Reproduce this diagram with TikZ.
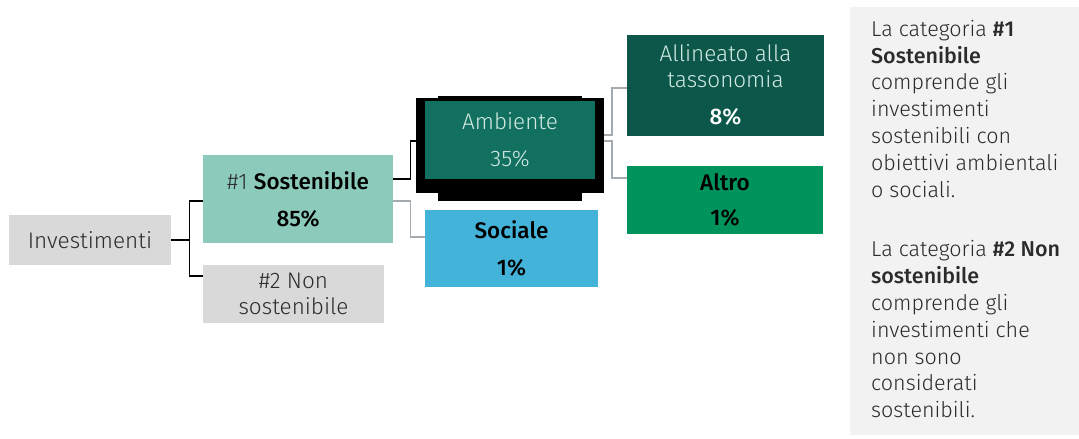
\documentclass[tikz,border=0pt]{standalone}
\usepackage{fontspec}
\setmainfont{Fira Sans}[UprightFont=* Light, BoldFont=* Medium]
\definecolor{boxgray}{HTML}{D9D9D9}
\definecolor{mint}{HTML}{8CCBBB}
\definecolor{teal}{HTML}{117060}
\definecolor{darkteal}{HTML}{0C574A}
\definecolor{green}{HTML}{00935B}
\definecolor{sky}{HTML}{44B3D9}
\definecolor{panel}{HTML}{F2F2F2}
\definecolor{linegray}{HTML}{A3AAB0}
\definecolor{txt}{HTML}{2B2B2B}
\definecolor{lighttxt}{HTML}{D2EAE2}
\begin{document}
\begin{tikzpicture}[x=1pt,y=-1pt,
  box/.style={draw=none,inner sep=0pt,align=center,font=\fontsize{22.5}{26}\selectfont,text=txt},
  conn/.style={line width=1.3pt,black},
  gconn/.style={line width=1.3pt,linegray}]
\useasboundingbox (0,0) rectangle (1079,439);
% panel
\fill[panel] (850,7) rectangle (1079,435);
\node[anchor=north west,inner sep=0pt,align=left,text=txt,font=\fontsize{21.5}{26.8}\selectfont] (panel) at (871,20)
 {La categoria \textbf{\#1}\\ \textbf{Sostenibile}\\ comprende gli\\ investimenti\\ sostenibili con\\ obiettivi ambientali\\ o sociali.\\[33pt]
 La categoria \textbf{\#2 Non}\\ \textbf{sostenibile}\\ comprende gli\\ investimenti che\\ non sono\\ considerati\\ sostenibili.};
% boxes
\node[box,fill=boxgray,minimum width=162,minimum height=50] (inv) at (90,240) {Investimenti};
\node[box,fill=mint,minimum width=190,minimum height=88] (sost) at (298,199) {\#1 \textbf{\color{black}Sostenibile}\\[11pt] \textbf{\color{black}85\%}};
\node[box,fill=boxgray,minimum width=181,minimum height=58] (non) at (293.5,294) {\#2 Non\\ sostenibile};
% Ambiente frame
\fill[black] (416,98) rectangle (604,193);
\fill[black] (438,96) rectangle (582,201);
\node[box,fill=teal,text=lighttxt,minimum width=170,minimum height=78] (amb) at (510,140) {Ambiente\\[11pt] 35\%};
\coordinate (ambL) at (416,141);
\node[box,fill=sky,text=black,minimum width=173,minimum height=77] (soc) at (511.5,248) {\textbf{Sociale}\\[11pt] \textbf{1\%}};
\node[box,fill=darkteal,text=lighttxt,minimum width=197,minimum height=101] (all) at (725.5,85) {Allineato alla\\ tassonomia\\[11pt] \textbf{\color{white}8\%}};
\node[box,fill=green,text=black,minimum width=196,minimum height=68] (alt) at (725,200) {\textbf{Altro}\\[9pt] \textbf{1\%}};
% connectors
\draw[line width=2.2pt,black] (inv.east) -- ++(18,0) coordinate (j1);
\draw[conn] (sost.west |- 0,201) -| (j1) |- (non.west |- 0,276);
\draw[conn] (sost.east |- 0,179) -- ++(17,0) |- (ambL);
\draw[gconn] (sost.east |- 0,201) -- ++(17,0) |- (soc.west |- 0,237);
\draw[gconn] (604,135) -- ++(8,0) |- (all.west |- 0,88);
\draw[gconn] (604,141) -- ++(8,0) |- (alt.west |- 0,178);
\end{tikzpicture}
\end{document}
